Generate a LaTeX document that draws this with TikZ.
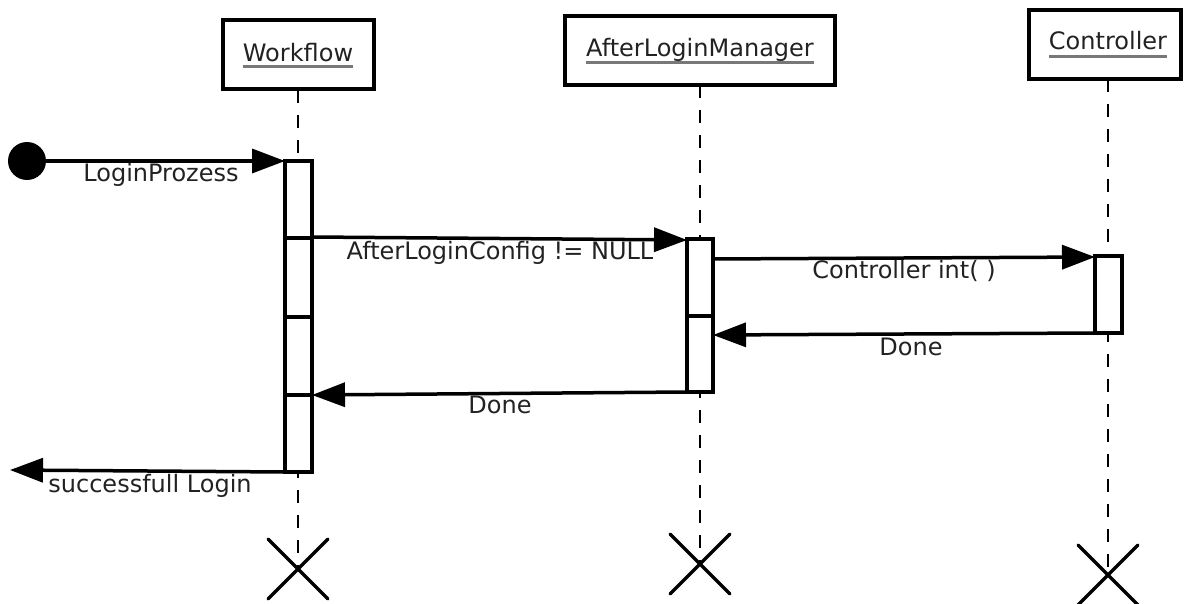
\documentclass[tikz,border=0pt]{standalone}
\usepackage{fontspec}
\setmainfont{DejaVu Sans}
\usetikzlibrary{arrows.meta}
\definecolor{txt}{RGB}{34,34,34}
\definecolor{ul}{RGB}{120,120,120}
\begin{document}
\begin{tikzpicture}[x=1pt,y=-1pt,
  every node/.style={font=\fontsize{24}{26}\selectfont, text=txt, inner sep=0pt},
  headbox/.style={draw, line width=3.5pt, fill=white},
  actbox/.style={draw, line width=3.5pt, fill=white},
  lifeline/.style={line width=2.2pt, dash pattern=on 13pt off 12pt},
  msg/.style={line width=3.5pt, -{Triangle[length=33pt,width=24pt]}},
  ulline/.style={line width=3pt, ul},
  xmark/.style={line width=3.5pt, line cap=round},
  lbl/.style={anchor=base}]
\useasboundingbox (0,0) rectangle (1184,604);

% lifelines
\coordinate (wTop) at (298,90);
\coordinate (wEnd) at (298,569);
\coordinate (aTop) at (700,85);
\coordinate (aEnd) at (700,564);
\coordinate (cTop) at (1108,79);
\coordinate (cEnd) at (1108,575);
\draw[lifeline] (wTop) -- (wEnd);
\draw[lifeline] (aTop) -- (aEnd);
\draw[lifeline] (cTop) -- (cEnd);

% heads
\draw[headbox] (223,20) rectangle (374,89);
\node[lbl] (wName) at (298,61.5) {Workflow};
\draw[ulline] ([yshift=-5.5pt]wName.base west) -- ([yshift=-5.5pt]wName.base east);

\draw[headbox] (565,16) rectangle (835,85);
\node[lbl] (aName) at (700,57) {AfterLoginManager};
\draw[ulline] ([yshift=-5.5pt]aName.base west) -- ([yshift=-5.5pt]aName.base east);

\draw[headbox] (1029,10) rectangle (1181,79);
\node[lbl] (cName) at (1108,50) {Controller};
\draw[ulline] ([yshift=-6.5pt]cName.base west) -- ([yshift=-6.5pt]cName.base east);

% activation boxes
\draw[actbox] (285,161) rectangle (312,472);
\draw[line width=3.5pt] (283,238) -- (313,238);
\draw[line width=4pt] (283,317) -- (313,317);
\draw[line width=3.5pt] (283,395) -- (313,395);

\draw[actbox] (687,239) rectangle (713,392);
\draw[line width=3.5pt] (687,316) -- (713,316);

\draw[actbox] (1095,256) rectangle (1122,333);

% message endpoints
\node[circle, fill=black, minimum size=38pt] (start) at (27,161) {};
\coordinate (m1e) at (285,161);
\coordinate (m2s) at (312,237);
\coordinate (m2e) at (687,240);
\coordinate (m3s) at (713,259);
\coordinate (m3e) at (1095,257);
\coordinate (m4s) at (1095,333);
\coordinate (m4e) at (713,335);
\coordinate (m5s) at (687,392);
\coordinate (m5e) at (312,395);
\coordinate (m6s) at (285,472);
\coordinate (m6e) at (10,470);

\draw[msg] (start.center) -- (m1e);
\draw[msg] (m2s) -- (m2e);
\draw[msg] (m3s) -- (m3e);
\draw[msg] (m4s) -- (m4e);
\draw[msg] (m5s) -- (m5e);
\draw[msg] (m6s) -- (m6e);

% labels
\node[lbl] (l1) at (161,182) {LoginProzess};
\node[lbl] (l2) at (500,260) {AfterLoginConfig != NULL};
\node[lbl] (l3) at (904,278.5) {Controller int( )};
\node[lbl] (l4) at (911,355) {Done};
\node[lbl] (l5) at (500,413.5) {Done};
\node[lbl] (l6) at (150,492.5) {successfull Login};

% destruction marks
\draw[xmark] (268,539) -- (328,599) (268,599) -- (328,539);
\draw[xmark] (670,534) -- (730,594) (670,594) -- (730,534);
\draw[xmark] (1078,545) -- (1138,605) (1078,605) -- (1138,545);
\end{tikzpicture}
\end{document}
